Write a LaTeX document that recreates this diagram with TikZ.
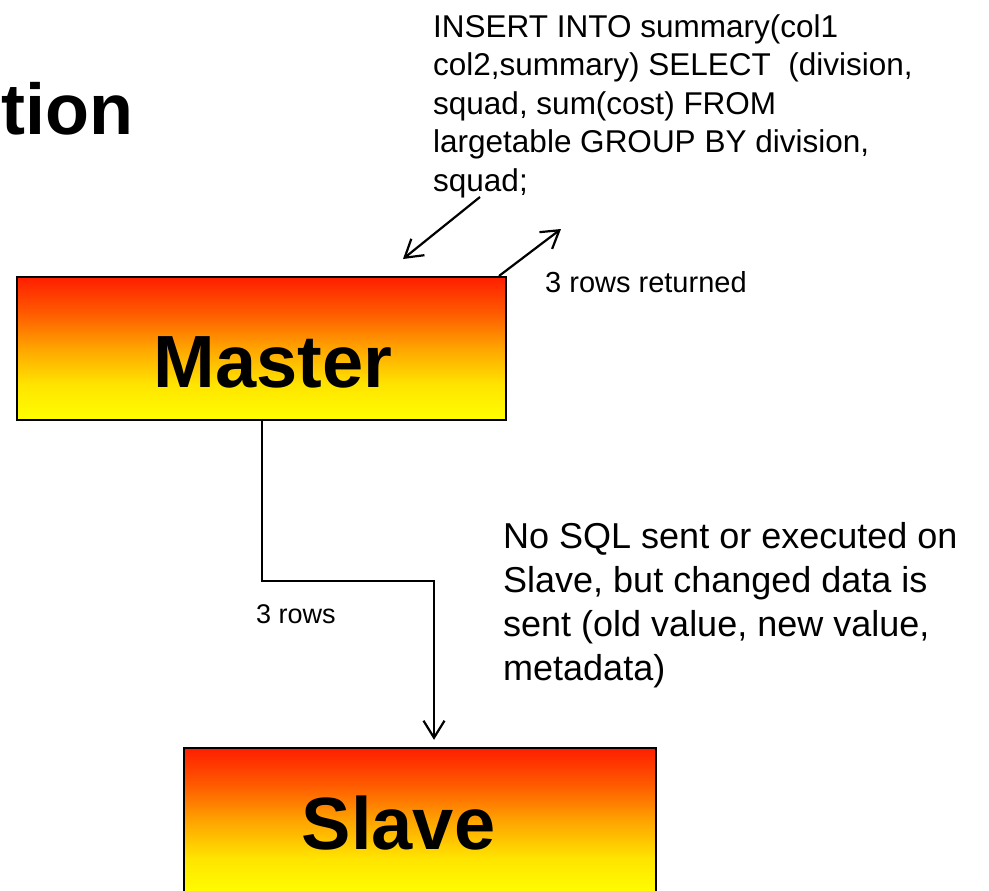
\documentclass[tikz,border=0pt]{standalone}
\usepackage{fontspec}
\setmainfont{Liberation Sans}
\usetikzlibrary{arrows.meta}
\definecolor{shA}{RGB}{255,255,0}
\definecolor{shB}{RGB}{255,228,0}
\definecolor{shC}{RGB}{255,165,0}
\definecolor{shD}{RGB}{255,90,0}
\definecolor{shE}{RGB}{255,30,0}
% red at the top fading to yellow at the bottom
\pgfdeclareverticalshading{dbshade}{100bp}{%
  color(0bp)=(shA); color(25bp)=(shA); color(37.5bp)=(shB);
  color(50bp)=(shC); color(62.5bp)=(shD); color(75bp)=(shE); color(100bp)=(shE)}
\tikzset{
  dbbox/.style={draw=black, line width=2.4pt, shading=dbshade, rectangle, inner sep=0pt},
  boxlabel/.style={font=\bfseries\fontsize{74}{80}\selectfont, inner sep=0pt, anchor=base},
  note/.style={inner sep=0pt, align=left, anchor=base west},
  conn/.style={line width=2.2pt, -{Straight Barb[length=17pt,width=21pt,line width=2.2pt]}},
}
\begin{document}
\begin{tikzpicture}[x=1pt,y=-1pt]
\useasboundingbox (0,0) rectangle (989,891);

% cut-off slide title
\node[font=\bfseries\fontsize{72}{80}\selectfont, inner sep=0pt, anchor=base east]
  (title) at (134,135) {tion};

% the two servers
\node[dbbox, minimum width=489pt, minimum height=143pt] (Master) at (261.5,348.5) {};
\node[boxlabel] (masterlabel) at (273,387) {Master};

\node[dbbox, minimum width=472pt, minimum height=147pt] (Slave) at (420,821.5) {};
\node[boxlabel] (slavelabel) at (398.5,849) {Slave};

% statement sent by the client (anchored at the baseline of its last line)
\node[note, font=\fontsize{31.5}{38.5}\selectfont] (sql) at (433,191)
  {INSERT INTO summary(col1\\col2,summary) SELECT~~(division,\\squad, sum(cost) FROM\\largetable GROUP BY division,\\squad;};

\node[note, font=\fontsize{29}{34}\selectfont] (ret) at (545,292) {3 rows returned};

\coordinate (qa) at (480,197);
\coordinate (qb) at (403,259);
\coordinate (ra) at (499,276);
\coordinate (rb) at (561,229);
\draw[conn] (qa) -- (qb);
\draw[conn] (ra) -- (rb);

% replication of the changed rows
\coordinate (bend) at (434,581);
\draw[conn, shorten >=7pt] (Master.south -| 262,0) |- (bend) -- (Slave.north -| bend);
\node[note, font=\fontsize{27}{32}\selectfont] (rows) at (256,623) {3 rows};

\node[note, font=\fontsize{36}{44}\selectfont] (binlog) at (503,680)
  {No SQL sent or executed on\\Slave, but changed data is\\sent (old value, new value,\\metadata)};
\end{tikzpicture}
\end{document}
